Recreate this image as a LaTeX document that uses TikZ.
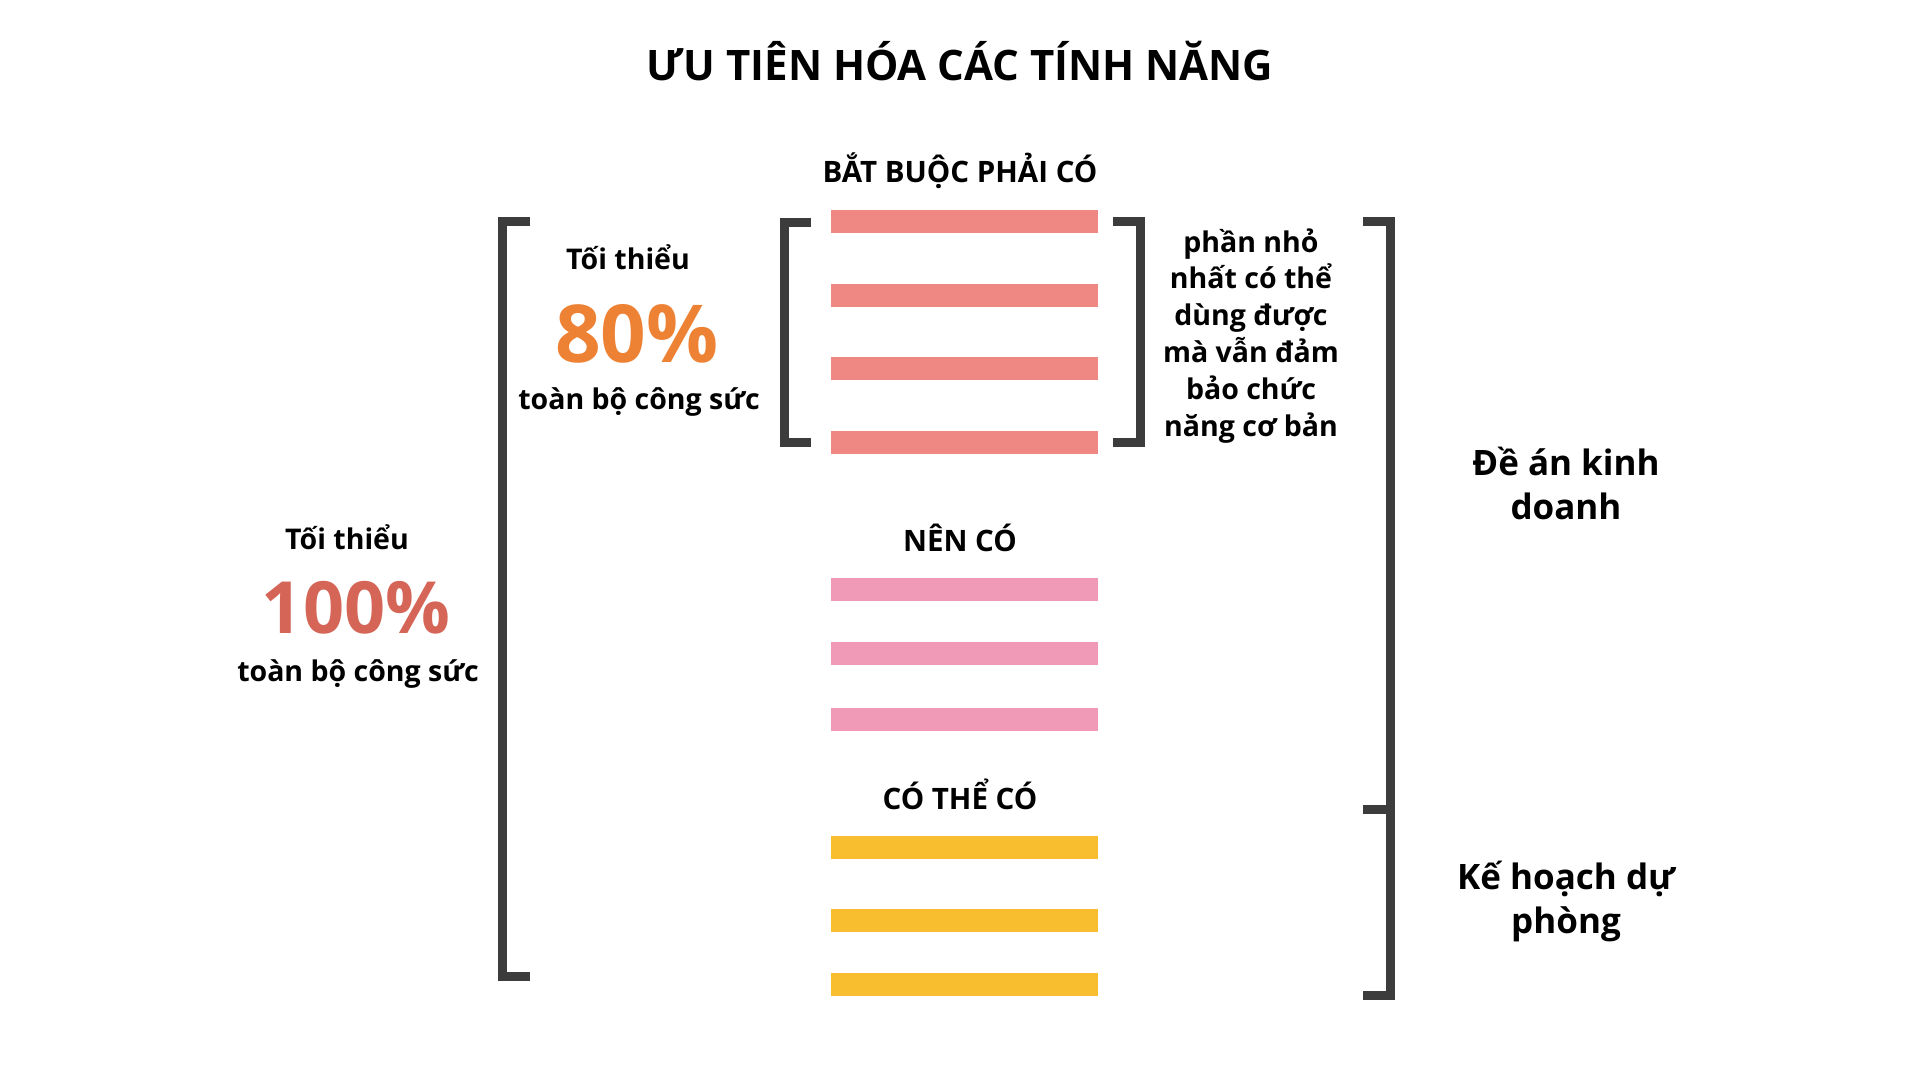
\documentclass[tikz,border=0pt]{standalone}
\usepackage{fontspec}
\setmainfont{Open Sans}
\definecolor{mustred}{HTML}{EF8883}
\definecolor{shouldpink}{HTML}{F09AB7}
\definecolor{couldyellow}{HTML}{F9BE30}
\definecolor{pctorange}{HTML}{EE8234}
\definecolor{pctred}{HTML}{D56557}
\definecolor{brackgray}{HTML}{3C3C3C}
\begin{document}
\begin{tikzpicture}[x=1pt,y=-1pt,
    bracket/.style={draw=brackgray,line width=9pt,line join=miter},
    heading/.style={font=\bfseries\fontsize{29.5}{34}\selectfont,anchor=base,inner sep=0pt},
    label/.style={font=\bfseries\fontsize{28.5}{36.8}\selectfont,anchor=base,inner sep=0pt,align=center},
    side/.style={font=\bfseries\fontsize{35}{44}\selectfont,anchor=base,inner sep=0pt,align=center},
    pct/.style={font=\bfseries\fontsize{80}{80}\selectfont,anchor=base,inner sep=0pt}]
    \useasboundingbox[fill=white] (0,0) rectangle (1920,1080);
    % title
    \node[font=\bfseries\fontsize{42}{48}\selectfont,anchor=base,inner sep=0pt] (title) at (960,80) {ƯU TIÊN HÓA CÁC TÍNH NĂNG};
    % must have
    \node[heading] (must) at (960,182) {BẮT BUỘC PHẢI CÓ};
    \fill[mustred] (831,210) rectangle (1098,233);
    \fill[mustred] (831,284) rectangle (1098,307);
    \fill[mustred] (831,357) rectangle (1098,380);
    \fill[mustred] (831,431) rectangle (1098,454);
    % should have
    \node[heading] (should) at (960,551) {NÊN CÓ};
    \fill[shouldpink] (831,578) rectangle (1098,601);
    \fill[shouldpink] (831,642) rectangle (1098,665);
    \fill[shouldpink] (831,708) rectangle (1098,731);
    % could have
    \node[heading] (could) at (960,809) {CÓ THỂ CÓ};
    \fill[couldyellow] (831,836) rectangle (1098,859);
    \fill[couldyellow] (831,909) rectangle (1098,932);
    \fill[couldyellow] (831,973) rectangle (1098,996);
    % brackets
    \draw[bracket] (811,222) -- (784.5,222) -- (784.5,442) -- (811,442);
    \draw[bracket] (1113,221.5) -- (1140,221.5) -- (1140,442.5) -- (1113,442.5);
    \draw[bracket] (530,221) -- (502.5,221) -- (502.5,976) -- (530,976);
    \draw[bracket] (1363,221) -- (1390,221) -- (1390,809) -- (1363,809);
    \draw[bracket] (1363,809) -- (1390,809) -- (1390,995.5) -- (1363,995.5);
    % inner effort
    \node[label] (min80) at (628,269) {Tối thiểu};
    \node[pct,text=pctorange] (p80) at (637,362) {80\%};
    \node[label] (all80) at (639,409) {toàn bộ công sức};
    % outer effort
    \node[label] (min100) at (347,549) {Tối thiểu};
    \node[pct,text=pctred,font=\bfseries\fontsize{72}{72}\selectfont] (p100) at (356,633) {100\%};
    \node[label] (all100) at (358,681) {toàn bộ công sức};
    % notes on the right
    \node[label] (mvp) at (1251,436) {phần nhỏ\\nhất có thể\\dùng được\\mà vẫn đảm\\bảo chức\\năng cơ bản};
    \node[side] (plan) at (1566,519) {Đề án kinh\\doanh};
    \node[side] (backup) at (1566,933) {Kế hoạch dự\\phòng};
\end{tikzpicture}
\end{document}
